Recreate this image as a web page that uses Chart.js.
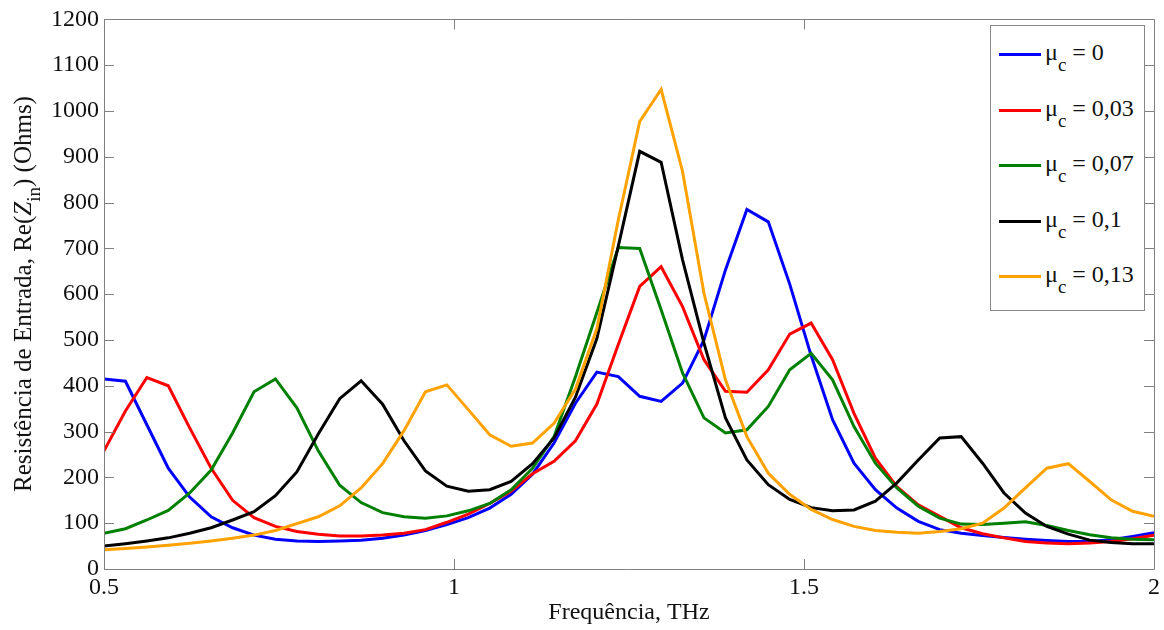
<!DOCTYPE html>
<html lang="pt">
<head>
<meta charset="utf-8">
<title>Resistência de Entrada x Frequência</title>
<script src="https://cdn.jsdelivr.net/npm/chart.js@4.4.1/dist/chart.umd.min.js"></script>
<style>
  body { margin: 0; background: #fff; }
  #wrap { position: relative; width: 1164px; height: 630px; font-family: 'Liberation Serif', 'Times New Roman', serif; color: #111; }
  #ytitle { position: absolute; left: 23px; top: 294px; transform: translate(-50%, -50%) rotate(-90deg); white-space: nowrap; font-size: 25px; }
  #ytitle sub { font-size: 19px; vertical-align: -0.45em; line-height: 0; }
  #legend sub { font-size: 19px; vertical-align: -0.6em; line-height: 0; }
  #legend { position: absolute; left: 990px; top: 25px; width: 155px; height: 286px; box-sizing: border-box; border: 1px solid #888; background: #fff; padding-top: 1px; }
  .item { height: 55.5px; display: flex; align-items: center; font-size: 24px; }
  .item span.txt { position: relative; top: -2px; }
  .swatch { width: 42px; height: 3px; margin: 0 4px 0 8px; }
</style>
</head>
<body>
<div id="wrap">
  <canvas id="mainChart" width="1164" height="630"></canvas>
  <div id="ytitle">Resistência de Entrada, Re(<i>Z</i><sub>in</sub>) (Ohms)</div>
  <div id="legend"></div>
</div>
<script>
// 1. Values (Re(Zin) in Ohms at 50 frequency samples, THz)
const freq = [0.5, 0.5306, 0.5612, 0.5918, 0.6224, 0.6531, 0.6837, 0.7143, 0.7449, 0.7755,
              0.8061, 0.8367, 0.8673, 0.8980, 0.9286, 0.9592, 0.9898, 1.0204, 1.0510, 1.0816,
              1.1122, 1.1429, 1.1735, 1.2041, 1.2347, 1.2653, 1.2959, 1.3265, 1.3571, 1.3878,
              1.4184, 1.4490, 1.4796, 1.5102, 1.5408, 1.5714, 1.6020, 1.6327, 1.6633, 1.6939,
              1.7245, 1.7551, 1.7857, 1.8163, 1.8469, 1.8776, 1.9082, 1.9388, 1.9694, 2.0];

const mu0 = [415, 410, 315, 220, 157, 114, 90, 74, 65, 61, 60, 61, 63, 67, 74, 84, 97, 112, 133, 163,
             207, 275, 362, 430, 420, 377, 366, 406, 500, 653, 785, 758, 622, 466, 326, 231, 173, 133, 104, 86,
             78, 73, 69, 65, 62, 60, 60, 64, 71, 79];
const mu003 = [258, 345, 418, 400, 308, 220, 150, 112, 93, 82, 76, 72, 72, 74, 78, 86, 102, 120, 143, 170,
               208, 235, 280, 360, 490, 617, 660, 573, 457, 388, 386, 435, 513, 537, 457, 340, 242, 180, 140, 115,
               90, 77, 68, 60, 57, 55, 57, 60, 66, 74];
const mu007 = [78, 88, 107, 128, 166, 216, 297, 387, 415, 352, 258, 183, 145, 123, 114, 111, 116, 127, 143, 173,
               220, 289, 420, 560, 702, 700, 566, 428, 330, 297, 304, 355, 435, 471, 413, 311, 231, 177, 137, 111,
               98, 97, 100, 103, 95, 84, 75, 68, 65, 64];
const mu01 = [50, 55, 61, 68, 78, 90, 107, 125, 160, 212, 295, 372, 411, 360, 280, 214, 181, 170, 173, 191,
              230, 286, 375, 503, 705, 912, 888, 675, 493, 330, 238, 184, 152, 134, 127, 129, 148, 188, 238, 286,
              289, 231, 166, 122, 93, 76, 63, 58, 55, 55];
const mu013 = [42, 45, 48, 52, 56, 61, 67, 74, 84, 99, 114, 138, 177, 230, 302, 387, 402, 348, 293, 268,
               275, 318, 393, 525, 762, 977, 1047, 868, 602, 413, 289, 209, 163, 130, 108, 93, 84, 80, 78, 82,
               88, 100, 133, 177, 220, 230, 191, 151, 126, 115];

const seriesNames = ['0', '0,03', '0,07', '0,1', '0,13'];
const seriesColors = ['#0000ff', '#ff0000', '#008000', '#000000', '#ffa200'];
const xTicks = [0.5, 1, 1.5, 2];
const xTickLabels = ['0.5', '1', '1.5', '2'];
const yTicks = [0, 100, 200, 300, 400, 500, 600, 700, 800, 900, 1000, 1100, 1200];

const FONT = "'Liberation Serif', 'Times New Roman', serif";

// 2. Datasets (last series drawn on top, like the original)
const seriesValues = [mu0, mu003, mu007, mu01, mu013];
const datasets = seriesValues.map((vals, i) => ({
    label: 'μc = ' + seriesNames[i],
    data: vals.map((v, k) => ({ x: freq[k], y: v })),
    borderColor: seriesColors[i],
    backgroundColor: seriesColors[i],
    borderWidth: 3,
    pointRadius: 0,
    tension: 0,
    order: seriesValues.length - 1 - i
}));

// 3. Box round the plot + inward tick marks on all four sides
const frameTicks = {
    id: 'frameTicks',
    afterDatasetsDraw(chart) {
        const { ctx, chartArea: a, scales: { x, y } } = chart;
        const len = 10;
        ctx.save();
        ctx.strokeStyle = '#808080';
        ctx.lineWidth = 1;
        ctx.beginPath();
        ctx.rect(Math.round(a.left) + 0.5, Math.round(a.top) + 0.5,
                 Math.round(a.right - a.left), Math.round(a.bottom - a.top));
        x.ticks.forEach(t => {
            const px = Math.round(x.getPixelForValue(t.value)) + 0.5;
            ctx.moveTo(px, a.bottom); ctx.lineTo(px, a.bottom - len);
            ctx.moveTo(px, a.top); ctx.lineTo(px, a.top + len);
        });
        y.ticks.forEach(t => {
            const py = Math.round(y.getPixelForValue(t.value)) + 0.5;
            ctx.moveTo(a.left, py); ctx.lineTo(a.left + len, py);
            ctx.moveTo(a.right, py); ctx.lineTo(a.right - len, py);
        });
        ctx.stroke();
        ctx.restore();
    }
};

// 4. Chart
const mainChart = new Chart(document.getElementById('mainChart').getContext('2d'), {
    type: 'line',
    data: { datasets },
    options: {
        responsive: false,
        animation: false,
        devicePixelRatio: 1,
        layout: { padding: { top: 19, right: 8, left: 0, bottom: 0 } },
        plugins: { legend: { display: false }, tooltip: { enabled: false } },
        scales: {
            x: {
                type: 'linear',
                min: 0.5,
                max: 2,
                afterBuildTicks: s => { s.ticks = xTicks.map(v => ({ value: v })); },
                afterFit: s => { s.height = 61; },
                grid: { display: false, drawTicks: false },
                border: { display: false },
                ticks: {
                    padding: 4,
                    color: '#111',
                    font: { family: FONT, size: 24 },
                    callback: v => xTickLabels[xTicks.indexOf(v)]
                },
                title: {
                    display: true,
                    text: 'Frequência, THz',
                    color: '#111',
                    font: { family: FONT, size: 24 },
                    padding: { top: 0, bottom: 3 }
                }
            },
            y: {
                min: 0,
                max: 1200,
                afterBuildTicks: s => { s.ticks = yTicks.map(v => ({ value: v })); },
                afterFit: s => { s.width = 104; },
                grid: { display: false, drawTicks: false },
                border: { display: false },
                ticks: {
                    padding: 5,
                    color: '#111',
                    font: { family: FONT, size: 24 },
                    callback: v => String(v)
                }
            }
        }
    },
    plugins: [frameTicks]
});

// 5. Legend in HTML so the subscript c can be real text
const legend = document.getElementById('legend');
mainChart.data.datasets.forEach((ds, i) => {
    const row = document.createElement('div');
    row.className = 'item';
    row.innerHTML = '<span class="swatch" style="background:' + ds.borderColor + '"></span>' +
                    '<span class="txt">μ<sub>c</sub> = ' + seriesNames[i] + '</span>';
    legend.appendChild(row);
});
</script>
</body>
</html>
